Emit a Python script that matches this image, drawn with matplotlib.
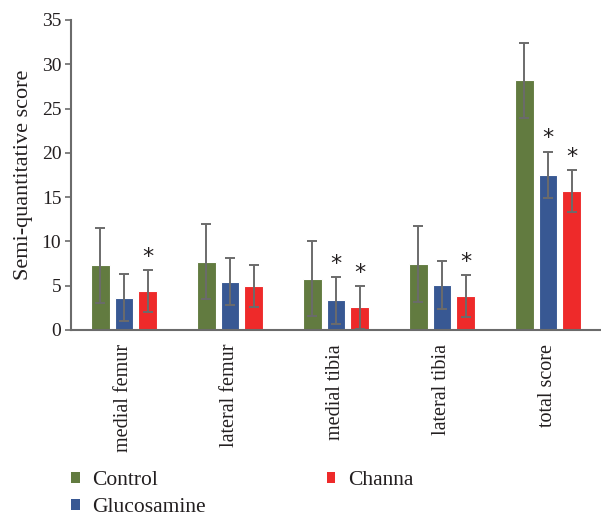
import matplotlib
matplotlib.use("Agg")
import matplotlib.pyplot as plt
from matplotlib.patches import Patch
import numpy as np

categories = ["medial femur", "lateral femur", "medial tibia", "lateral tibia", "total score"]
series_names = ["Control", "Glucosamine", "Channa"]
control = [7.3, 7.7, 5.8, 7.45, 28.2]
control_err = [4.25, 4.25, 4.25, 4.25, 4.25]
glucosamine = [3.65, 5.45, 3.35, 5.1, 17.5]
glucosamine_err = [2.65, 2.65, 2.65, 2.7, 2.65]
channa = [4.4, 5.0, 2.55, 3.85, 15.7]
channa_err = [2.4, 2.35, 2.4, 2.35, 2.4]
# significance markers (True = '*')
glucosamine_sig = [False, False, True, False, True]
channa_sig = [True, False, True, True, True]
yticks = [0, 5, 10, 15, 20, 25, 30, 35]

colors = ["#627B40", "#385893", "#EE2A2A"]
grey = "#6B6B6B"
text_color = "#231F20"

plt.rcParams["font.family"] = ["Liberation Serif", "DejaVu Serif"]

fig = plt.figure(figsize=(6.01, 5.18), dpi=100)
W, H = 601, 518
ax = fig.add_axes([71 / W, 1 - 330 / H, 530 / W, 310 / H])

x = np.arange(len(categories))
width = 0.175
offset = 0.224
all_vals = [control, glucosamine, channa]
all_errs = [control_err, glucosamine_err, channa_err]
sigs = [[False] * 5, glucosamine_sig, channa_sig]
for i, (vals, errs, sig, c, name) in enumerate(zip(all_vals, all_errs, sigs, colors, series_names)):
    xs = x + (i - 1) * offset
    ax.bar(xs, vals, width, color=c, edgecolor="white", linewidth=0.8, label=name, zorder=2)
    ax.errorbar(xs, vals, yerr=errs, fmt="none", ecolor=grey, elinewidth=1.4,
                capsize=3.5, capthick=1.4, zorder=3)
    for xi, v, e, s in zip(xs, vals, errs, sig):
        if s:
            ax.text(xi, v + e + 0.35, "*", ha="center", va="bottom", fontsize=16,
                    color=text_color, family="DejaVu Sans")

ax.set_xlim(-0.5, len(categories) - 0.5)
ax.set_ylim(0, 35)
ax.set_yticks(yticks)
ax.set_yticklabels([str(t) for t in yticks], fontsize=14, color=text_color)
ax.tick_params(axis="y", direction="out", length=4, width=1.2, color=grey, pad=3)
ax.set_xticks(x)
ax.set_xticklabels(categories, rotation=90, fontsize=14.5, color=text_color, va="top", ha="center")
ax.tick_params(axis="x", length=0, pad=10)
for s in ["top", "right"]:
    ax.spines[s].set_visible(False)
for s in ["left", "bottom"]:
    ax.spines[s].set_color(grey)
    ax.spines[s].set_linewidth(1.5)
ax.set_ylabel("Semi-quantitative score", fontsize=16, color=text_color, labelpad=6)

handles = [Patch(facecolor=c, edgecolor="none") for c in colors]
leg = fig.legend(handles, series_names, ncol=2, loc="upper left",
                 bbox_to_anchor=(71 / W, 1 - 471 / H), frameon=False, fontsize=15.5,
                 handlelength=0.4, handleheight=0.4, handletextpad=0.6,
                 columnspacing=5.6, labelspacing=0.38, borderaxespad=0, borderpad=0)
for t in leg.get_texts():
    t.set_color(text_color)

fig.savefig("out.png", dpi=100)
